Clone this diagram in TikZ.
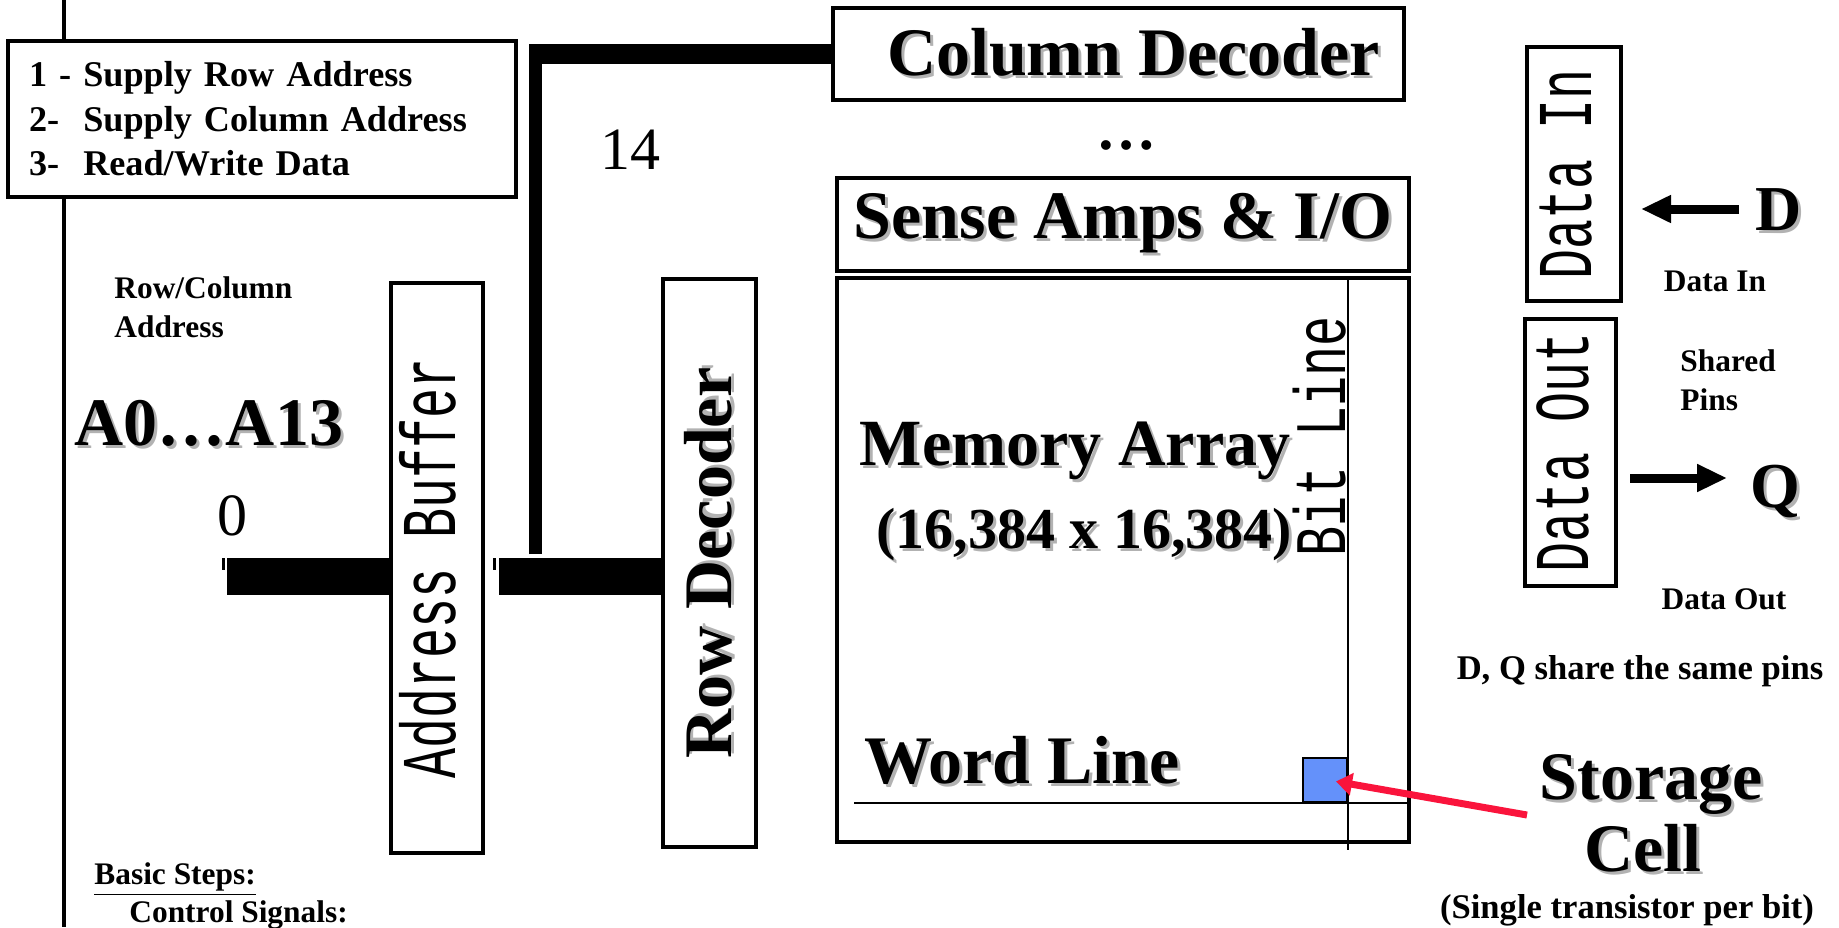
\documentclass[tikz,border=0pt]{standalone}
\usepackage{fontspec}
\setmainfont{Liberation Serif}
\setmonofont{Liberation Mono}
\usepackage{graphicx}
\usetikzlibrary{arrows.meta}

\definecolor{cellblue}{RGB}{100,145,250}
\definecolor{pointred}{RGB}{250,20,60}
\newcommand{\shadowed}[1]{\makebox[0pt][l]{\hspace{1.5pt}\raisebox{-1.5pt}{\textcolor{black!30}{#1}}}#1}
\newcommand{\tallmono}[1]{\scalebox{1}[1.55]{\ttfamily #1}}

\begin{document}
\begin{tikzpicture}[x=0.5pt,y=-0.5pt,
    box/.style={draw,line width=2pt,fill=white,inner sep=0pt},
    bigbf/.style={font=\fontsize{34}{36}\selectfont\bfseries},
    midbf/.style={font=\fontsize{29}{31}\selectfont\bfseries},
    smallbf/.style={font=\fontsize{15.7}{19.5}\selectfont\bfseries},
    notebf/.style={font=\fontsize{17.3}{20}\selectfont\bfseries},
    monotxt/.style={font=\fontsize{25}{28}\selectfont},
    numtxt/.style={font=\fontsize{30}{32}\selectfont},
    bus/.style={line width=18.5pt},
    fatarrow/.style={line width=4.5pt,-{Triangle[length=15pt,width=13pt]}},
  ]
  \useasboundingbox (0,0) rectangle (1839,927);
  \draw[line width=2pt] (64,0) -- (64,927);

  % steps and address input
  \node[box, minimum height=78pt, text width=233pt, inner xsep=10.5pt, align=left,
        font=\fontsize{18.1}{22.2}\selectfont\bfseries] (steps) at (262,119)
    {1 - Supply Row Address\\2-\ \ Supply Column Address\\3-\ \ Read/Write Data};
  \node[smallbf, align=left, anchor=west, inner xsep=0pt] (rcaddr) at (114,307) {Row/Column\\Address};
  \node[bigbf] (addr) at (209,425) {\shadowed{A0…A13}};
  \node[numtxt] (zero) at (232,516) {0};
  \node[numtxt] (fourteen) at (630,150) {14};
  \node[smallbf, anchor=west, inner xsep=0pt] (basic) at (94,879) {\underline{Basic Steps:}};
  \node[smallbf, anchor=west, inner xsep=0pt] (ctrl) at (129,915) {Control Signals:};

  % buffer, decoders
  \node[box, minimum width=46pt, minimum height=285pt, monotxt] (addrbuf) at (437,568)
    {\rotatebox{90}{\tallmono{Address Buffer}}\hspace*{9pt}};
  \node[box, minimum width=46.5pt, minimum height=284pt, bigbf] (rowdec) at (709.5,563)
    {\rotatebox{90}{\shadowed{Row Decoder}}};
  \node[box, minimum width=285.5pt, minimum height=46pt, bigbf] (coldec) at (1118.5,54)
    {\hspace*{15pt}\shadowed{Column Decoder}};
  \node[font=\fontsize{30}{32}\selectfont\bfseries] (dots) at (1126,145) {…};
  \node[box, minimum width=286pt, minimum height=46.5pt, bigbf] (sense) at (1123,224.5)
    {\shadowed{Sense Amps \& I/O}};

  % buses
  \coordinate (ain) at (227,576);
  \coordinate (bin) at (499,576);
  \coordinate (tap) at (535.5,554);
  \coordinate (bend) at (529,54);
  \draw[bus] (ain) -- (ain -| addrbuf.west);
  \draw[bus] (bin) -- (bin -| rowdec.west);
  \draw[line width=1.5pt] (223.5,558) -- (223.5,570);
  \draw[line width=1.5pt] (494,558) -- (494,570);
  \draw[line width=6.5pt] (tap) -- (tap |- bend);
  \draw[line width=10pt] (bend) -- (coldec.west);

  % memory array
  \node[box, minimum width=286pt, minimum height=282pt] (memory) at (1123,560) {};
  \draw[line width=1pt] (1348,278) -- (1348,850);
  \draw[line width=1pt] (854,803) -- (1409,803);
  \node[font=\fontsize{33}{35}\selectfont\bfseries] (memlbl) at (1075,452) {\shadowed{Memory Array}};
  \node[midbf] (memsize) at (1084,536) {\shadowed{(16,384 x 16,384)}};
  \node[monotxt, rotate=90] (bitlbl) at (1320,436) {\scalebox{1}[1.45]{\ttfamily Bit Line}};
  \node[bigbf] (wordlbl) at (1022,762) {\shadowed{Word Line}};
  \node[draw, line width=1pt, fill=cellblue, minimum size=22pt, inner sep=0pt] (cell) at (1325,779.5) {};

  % storage cell note
  \node[bigbf] (storage) at (1651,786) {\shadowed{Storage}};
  \node[bigbf] (celltxt) at (1643,850) {\shadowed{Cell}};
  \node[notebf] (single) at (1627,910) {(Single transistor per bit)};
  \coordinate (foot) at (1527,815);
  \draw[line width=3.5pt, pointred, -{Triangle[length=8pt,width=11pt]}, shorten >=5.6pt] (foot) -- (cell.center);

  % data pins
  \node[box, minimum width=47pt, minimum height=127pt, monotxt] (datain) at (1574,174)
    {\rotatebox{90}{\tallmono{Data In}}\hspace*{8pt}};
  \node[box, minimum width=45.5pt, minimum height=133.5pt, monotxt] (dataout) at (1570.5,452.5)
    {\rotatebox{90}{\tallmono{Data Out}}\hspace*{8pt}};
  \node[font=\fontsize{32}{34}\selectfont\bfseries] (dpin) at (1779,211) {\shadowed{D}};
  \node[font=\fontsize{32}{34}\selectfont\bfseries] (qpin) at (1775,493) {\shadowed{Q}};
  \coordinate (dtail) at (1739,209);
  \draw[fatarrow, shorten >=9pt] (dtail) -- (dtail -| datain.east);
  \coordinate (qtail) at (1630,478);
  \draw[fatarrow, shorten >=8pt] (qtail) -- (qtail -| qpin.west);
  \node[smallbf] (inlbl) at (1715,281) {Data In};
  \node[smallbf, align=left, anchor=west, inner xsep=0pt] (shared) at (1680,380) {Shared\\Pins};
  \node[smallbf] (outlbl) at (1724,599) {Data Out};
  \node[notebf] (sharenote) at (1640,671) {D, Q share the same pins};
\end{tikzpicture}
\end{document}
